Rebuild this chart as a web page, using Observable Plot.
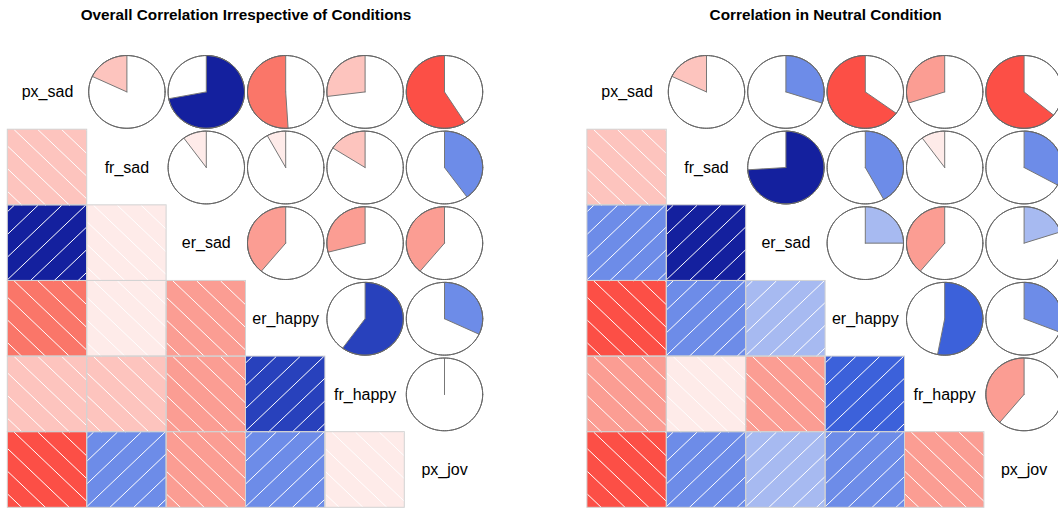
<!DOCTYPE html>
<html><head><meta charset="utf-8">
<script src="https://cdn.jsdelivr.net/npm/d3@7"></script>
<script src="https://cdn.jsdelivr.net/npm/@observablehq/plot@0.6"></script>
<style>
body{margin:0;background:#fff;}
#wrap{position:relative;width:1058px;height:508px;overflow:hidden;background:#fff;}
#wrap > div{position:absolute;top:0;width:540px;height:508px;}
#wrap svg{max-width:none !important;}
</style></head><body>
<div id="wrap"><div id="left" style="left:0px"></div><div id="right" style="left:529px"></div></div>
<script>
const variables = ["px_sad", "fr_sad", "er_sad", "er_happy", "fr_happy", "px_jov"];
const titles = ["Overall Correlation Irrespective of Conditions", "Correlation in Neutral Condition"];
// upper-triangle correlations, row by row: (px_sad,fr_sad), (px_sad,er_sad), ... (fr_happy,px_jov)
const overallCor = [-0.18, 0.72, -0.51, -0.27, -0.59, -0.10, -0.08, -0.16, 0.40, -0.39, -0.29, -0.39, 0.60, 0.32, 0.00];
const neutralCor = [-0.18, 0.30, -0.65, -0.30, -0.64, 0.74, 0.42, -0.10, 0.33, 0.25, -0.39, 0.20, 0.53, 0.31, -0.39];
const paletteStops = ["red", "salmon", "white", "royalblue", "navy"];
const nBins = 14;

const interp = d3.piecewise(d3.interpolateRgb, paletteStops);
const pal = d3.range(nBins).map(k => d3.color(interp(k / (nBins - 1))).formatHex());
const binColor = r => pal[Math.max(0, Math.min(nBins - 1, Math.ceil((r + 1) / (2 / nBins) - 1e-9) - 1))];

function makePanel(title, cors, width, marginLeft, marginRight) {
  const n = variables.length;
  const pairs = [];
  let idx = 0;
  for (let i = 0; i < n; i++) for (let j = i + 1; j < n; j++) pairs.push({i, j, r: cors[idx++]});
  // lower triangle shaded cells
  const cells = pairs.map(p => ({row: p.j + 1, col: p.i + 1, r: p.r, color: binColor(p.r)}));
  const segs = [];
  for (const c of cells) {
    const x0 = c.col - 0.5, y0 = c.row - 0.5;
    for (let k = 0; k < 7; k++) {
      if (c.r > 0) {
        const s = 0.08 + 0.3 * k;
        const u1 = Math.max(0, s - 1), u2 = Math.min(1, s);
        if (u2 > u1) segs.push({x1: x0 + u1, y1: y0 + s - u1, x2: x0 + u2, y2: y0 + s - u2});
      } else {
        const s = 0.08 + 0.3 * (k - 3);
        const u1 = Math.max(0, s), u2 = Math.min(1, 1 + s);
        if (u2 > u1) segs.push({x1: x0 + u1, y1: y0 + u1 - s, x2: x0 + u2, y2: y0 + u2 - s});
      }
    }
  }
  // upper triangle pies
  const R = 0.481, N = 120;
  const circles = [], wedges = [];
  pairs.forEach((p, id) => {
    const cx = p.j + 1, cy = p.i + 1;
    for (let t = 0; t <= N; t++) {
      const a = 2 * Math.PI * t / N;
      circles.push({id, x: cx + R * Math.cos(a), y: cy - R * Math.sin(a)});
    }
    const color = binColor(p.r);
    wedges.push({id, x: cx, y: cy, color});
    for (let t = 0; t <= N; t++) {
      const a = Math.PI / 2 - 2 * Math.PI * p.r * t / N;
      wedges.push({id, x: cx + R * Math.cos(a), y: cy - R * Math.sin(a), color});
    }
    wedges.push({id, x: cx, y: cy, color});
  });
  const labels = variables.map((v, i) => ({v, pos: i + 1}));

  return Plot.plot({
    width, height: 508,
    marginLeft, marginRight, marginTop: 53.6, marginBottom: 0.7,
    x: {domain: [0.5, 6.5], axis: null},
    y: {domain: [0.5, 6.5], reverse: true, axis: null},
    color: {type: "identity"},
    style: {fontFamily: "'Liberation Sans', Arial, sans-serif", background: "white", overflow: "visible", maxWidth: "none"},
    marks: [
      Plot.rect(cells, {x1: d => d.col - 0.5, x2: d => d.col + 0.5, y1: d => d.row - 0.5, y2: d => d.row + 0.5, fill: "color"}),
      Plot.link(segs, {x1: "x1", y1: "y1", x2: "x2", y2: "y2", stroke: "white", strokeWidth: 1}),
      Plot.rect(cells, {x1: d => d.col - 0.5, x2: d => d.col + 0.5, y1: d => d.row - 0.5, y2: d => d.row + 0.5, fill: "none", stroke: "#d3d3d3", strokeWidth: 1}),
      Plot.line(circles, {x: "x", y: "y", z: "id", fill: "white", stroke: "#666", strokeWidth: 1, curve: "linear"}),
      Plot.line(wedges, {x: "x", y: "y", z: "id", fill: "color", stroke: "#777", strokeWidth: 1, curve: "linear"}),
      Plot.line(circles, {x: "x", y: "y", z: "id", fill: "none", stroke: "#666", strokeWidth: 1, curve: "linear"}),
      Plot.text(labels, {x: "pos", y: "pos", text: "v", fontSize: 16, fill: "black"}),
      Plot.text([title], {x: () => 3.5, frameAnchor: "top", dy: -44.5, text: d => d, fontSize: 15.3, fontWeight: "bold", fill: "black"})
    ]
  });
}

document.getElementById("left").appendChild(makePanel(titles[0], overallCor, 529, 7.3, 45.3));
document.getElementById("right").appendChild(makePanel(titles[1], neutralCor, 540, 57.9, 5.7));
</script>
</body></html>
